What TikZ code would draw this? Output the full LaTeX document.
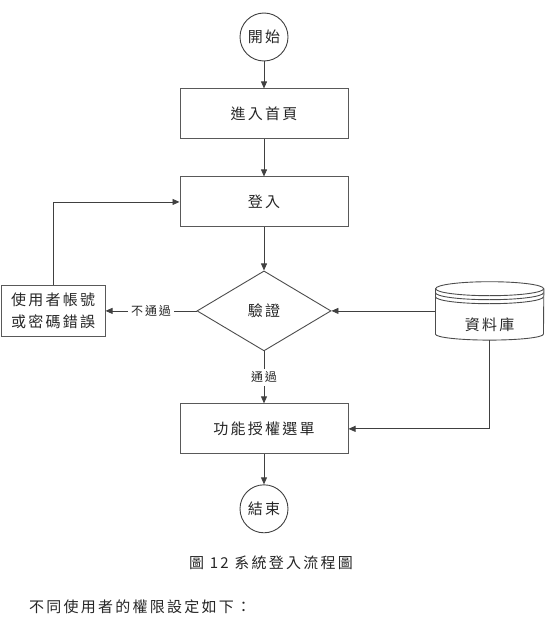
\documentclass[tikz,border=0pt]{standalone}
\usepackage{fontspec}
\setmainfont{Noto Sans CJK TC}
\newfontfamily\cjk[LetterSpace=15]{Noto Sans CJK TC}
\usetikzlibrary{arrows.meta,positioning,shapes.geometric}

\begin{document}
\begin{tikzpicture}[
  font=\cjk\fontsize{15}{22}\selectfont,
  text=black!85,
  box/.style={draw=black!65,line width=1pt,minimum width=168pt,minimum height=50pt,inner sep=0pt},
  term/.style={circle,draw=black!75,line width=0.9pt,minimum size=48pt,inner sep=0pt},
  check/.style={diamond,draw=black!70,line width=0.9pt,minimum width=134pt,minimum height=80pt,inner sep=0pt},
  errbox/.style={box,minimum width=104pt,minimum height=51pt,align=center},
  dbnode/.style={minimum width=108pt,minimum height=58pt,inner sep=0pt,text height=40pt},
  dbline/.style={draw=black!70,line width=0.9pt},
  arrow/.style={-{Triangle[length=7pt,width=6pt]},draw=black!75,line width=0.8pt},
  tag/.style={fill=white,inner sep=3pt,font=\cjk\fontsize{12}{14}\selectfont},
  node distance=30pt and 90pt
]
\useasboundingbox (0,0) rectangle (545pt,-626pt);

\node[term] (start) at (264pt,-37pt) {開始};
\node[box,below=27pt of start] (home) {進入首頁};
\node[box,below=37pt of home] (login) {登入};
\node[check,below=43pt of login] (verify) {驗證};
\node[errbox,left=91pt of verify] (error) {使用者帳號\\或密碼錯誤};
\node[dbnode,right=104pt of verify] (db) {資料庫};
\node[box,below=52pt of verify] (menu) {功能授權選單};
\node[term,below=30pt of menu] (finish) {結束};
\node (caption) at (271pt,-563pt) {圖 12 系統登入流程圖};
\node[anchor=west,inner sep=0pt] (note) at (29pt,-607pt) {不同使用者的權限設定如下：};

% database drum
\draw[dbline] ([yshift=-7pt]db.north) ellipse [x radius=54pt, y radius=7pt];
\draw[dbline] ([yshift=-7pt]db.north west) -- ([yshift=6pt]db.south west)
  arc[start angle=180, end angle=360, x radius=54pt, y radius=6pt] -- ([yshift=-7pt]db.north east);
\foreach \d in {11,15}
  \draw[dbline] ([yshift=-\d pt]db.north west) arc[start angle=180, end angle=360, x radius=54pt, y radius=7pt];

\draw[arrow] (start) -- (home);
\draw[arrow] (home) -- (login);
\draw[arrow] (login) -- (verify);
\draw[arrow] (verify) -- node[tag] {不通過} (error);
\draw[arrow] (verify) -- node[tag] {通過} (menu);
\draw[arrow] (error) |- (login);
\draw[arrow] (db) -- (verify);
\draw[arrow] (db) |- (menu);
\draw[arrow] (menu) -- (finish);
\end{tikzpicture}
\end{document}
